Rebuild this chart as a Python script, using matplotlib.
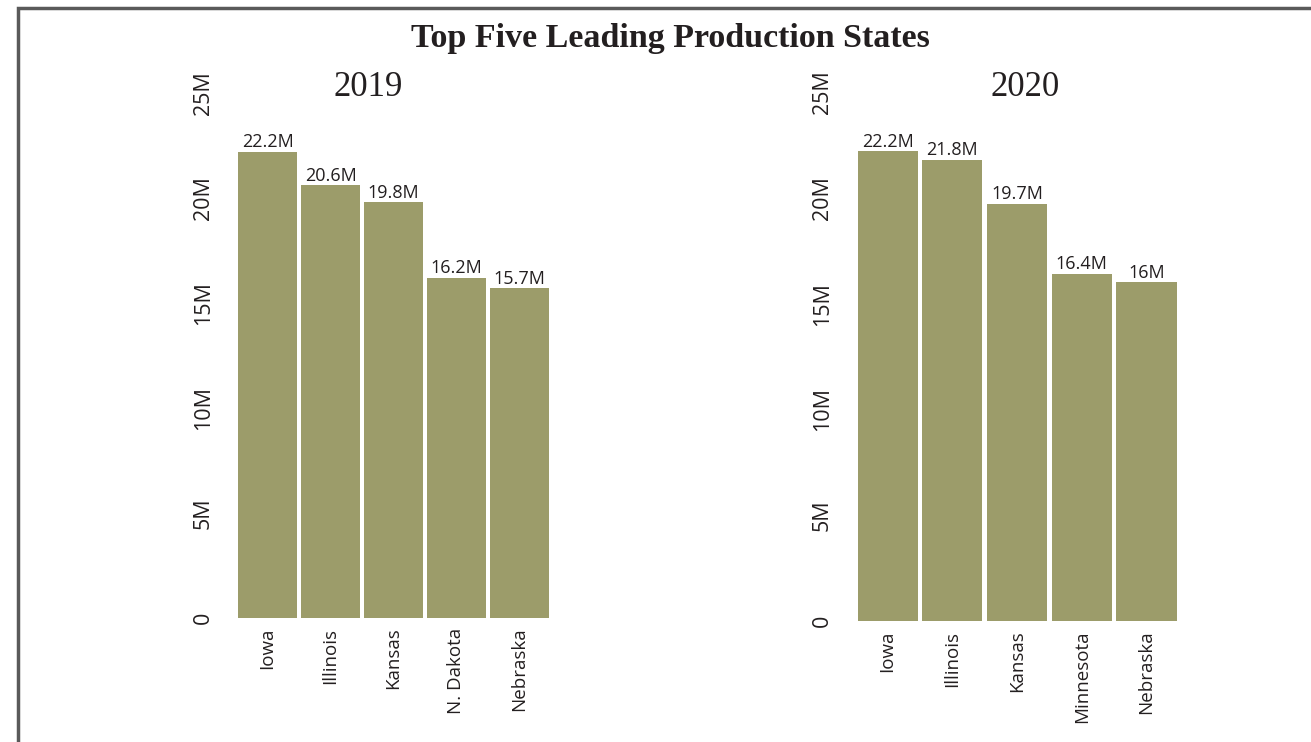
import matplotlib.pyplot as plt
from matplotlib.patches import Rectangle

states_2019 = ['Iowa', 'Illinois', 'Kansas', 'N. Dakota', 'Nebraska']
values_2019 = [22.2, 20.6, 19.8, 16.2, 15.7]
labels_2019 = ['22.2M', '20.6M', '19.8M', '16.2M', '15.7M']

states_2020 = ['Iowa', 'Illinois', 'Kansas', 'Minnesota', 'Nebraska']
values_2020 = [22.2, 21.8, 19.7, 16.4, 16.0]
labels_2020 = ['22.2M', '21.8M', '19.7M', '16.4M', '16M']

y_ticks = [0, 5, 10, 15, 20, 25]
y_tick_labels = ['0', '5M', '10M', '15M', '20M', '25M']

BAR_COLOR = '#9c9c6a'
TEXT_COLOR = '#231f20'
W, H = 1311, 742


def px_axes(fig, left, top, right, bottom):
    return fig.add_axes([left / W, 1 - bottom / H, (right - left) / W, (bottom - top) / H])


def draw_panel(ax, states, values, labels):
    x = list(range(len(states)))
    bars = ax.bar(x, values, width=0.93, color=BAR_COLOR)
    for b, lab in zip(bars, labels):
        ax.annotate(lab, (b.get_x() + b.get_width() / 2, b.get_height()),
                    xytext=(0, 0.5), textcoords='offset points',
                    ha='center', va='bottom', fontsize=13,
                    family='Open Sans', color=TEXT_COLOR)

    ax.set_xlim(-0.55, len(states) - 0.45)
    ax.set_ylim(0, 25)
    ax.set_xticks(x)
    ax.set_xticklabels(states, rotation=90, fontsize=13.5, family='Open Sans',
                       color=TEXT_COLOR)
    ax.set_yticks(y_ticks)
    ax.set_yticklabels(y_tick_labels, rotation=90, va='center', fontsize=15.5,
                       family='Open Sans', color=TEXT_COLOR)
    ax.tick_params(axis='both', length=0)
    ax.tick_params(axis='y', pad=14)
    ax.tick_params(axis='x', pad=7)
    for s in ax.spines.values():
        s.set_visible(False)
    ax.patch.set_alpha(0)


def main():
    fig = plt.figure(figsize=(W / 100, H / 100), dpi=100)

    # Frame round the figure, cut off on the right and bottom
    fig.patches.append(Rectangle((18 / W, -0.1), 1.2, 1.1 - 8 / H,
                                 transform=fig.transFigure, fill=False,
                                 edgecolor='#5a5a5a', linewidth=2.5))

    fig.text(670 / W, 1 - 38 / H, 'Top Five Leading Production States',
             ha='center', va='center', fontsize=24.5, fontweight='bold',
             family='Liberation Serif', color=TEXT_COLOR)

    ax1 = px_axes(fig, 233, 93, 554, 618)
    draw_panel(ax1, states_2019, values_2019, labels_2019)
    fig.text(368 / W, 1 - 88 / H, '2019', ha='center', va='center',
             fontsize=25, family='Liberation Serif', color=TEXT_COLOR)

    ax2 = px_axes(fig, 852, 92, 1182, 621)
    draw_panel(ax2, states_2020, values_2020, labels_2020)
    fig.text(1025 / W, 1 - 88 / H, '2020', ha='center', va='center',
             fontsize=25, family='Liberation Serif', color=TEXT_COLOR)

    fig.savefig('out.png', dpi=100)


if __name__ == '__main__':
    main()
